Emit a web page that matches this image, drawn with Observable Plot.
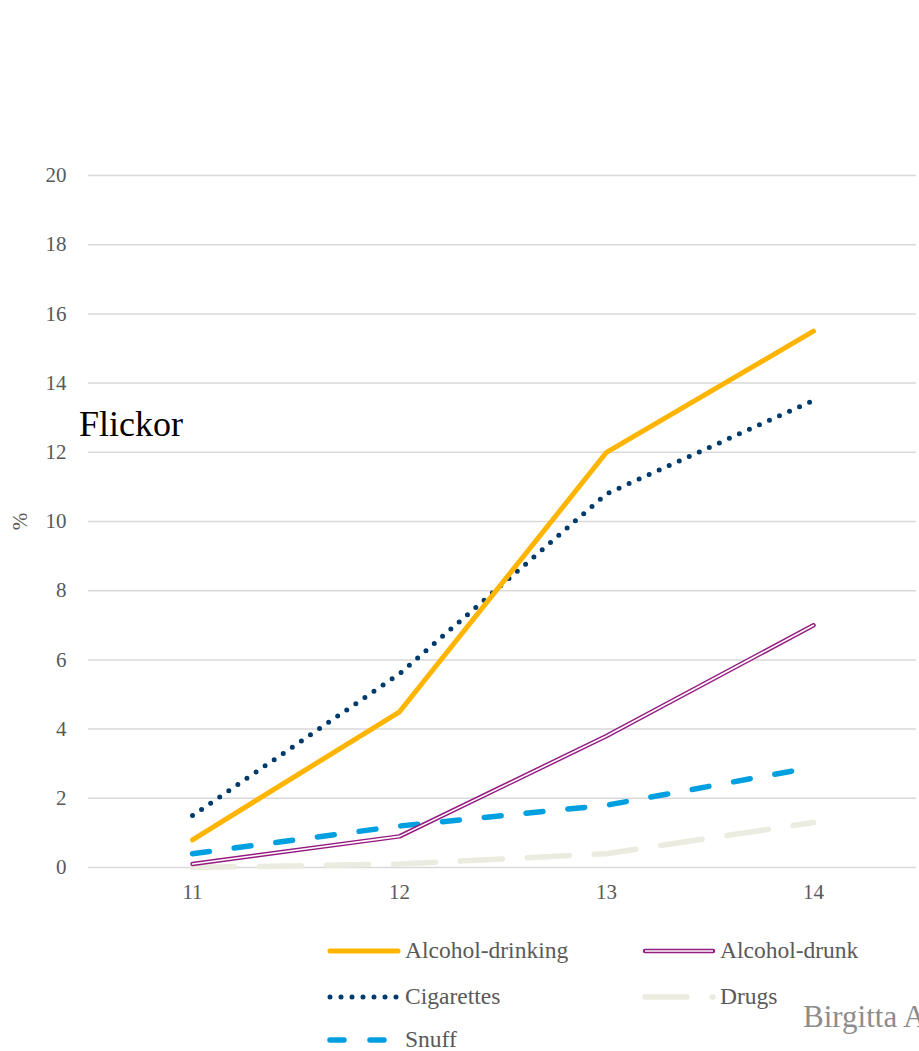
<!DOCTYPE html>
<html>
<head>
<meta charset="utf-8">
<script src="https://cdn.jsdelivr.net/npm/d3@7"></script>
<script src="https://cdn.jsdelivr.net/npm/@observablehq/plot@0.6"></script>
<style>
  html, body { margin: 0; padding: 0; background: #fff; }
  #wrap { position: relative; width: 919px; height: 1051px; overflow: hidden; font-family: "Liberation Serif", "Times New Roman", serif; }
  #chart { position: absolute; left: 0; top: 0; }
  #chart svg, #chart svg text { font-family: "Liberation Serif", "Times New Roman", serif; }
  .ann { position: absolute; white-space: nowrap; line-height: 1; }
  .leg { position: absolute; display: flex; align-items: center; font-size: 23.5px; line-height: 1; color: #595959; white-space: nowrap; }
  .leg svg { margin-right: 4px; }
</style>
</head>
<body>
<div id="wrap">
  <div id="chart"></div>
  <div class="ann" style="left:79px; top:406px; font-size:36px; color:#000;">Flickor</div>
  <div class="ann" style="left:803px; top:1001px; font-size:31px; color:#8c8c8c;">Birgitta A</div>
  <div id="legend"></div>
</div>
<script>
const ages = [11, 12, 13, 14];
const seriesNames = ["Alcohol-drinking", "Alcohol-drunk", "Cigarettes", "Drugs", "Snuff"];
const alcoholDrinking = [0.8, 4.5, 12.0, 15.5];
const alcoholDrunk = [0.1, 0.9, 3.8, 7.0];
const cigarettes = [1.5, 5.6, 10.8, 13.5];
const drugs = [0.0, 0.1, 0.4, 1.3];
const snuff = [0.4, 1.2, 1.8, 2.9];
const yTicks = [0, 2, 4, 6, 8, 10, 12, 14, 16, 18, 20];

const valuesBySeries = {
  "Alcohol-drinking": alcoholDrinking,
  "Alcohol-drunk": alcoholDrunk,
  "Cigarettes": cigarettes,
  "Drugs": drugs,
  "Snuff": snuff
};
const rows = [];
for (const s of seriesNames) {
  valuesBySeries[s].forEach((v, i) => rows.push({series: s, age: ages[i], value: v}));
}
const of = s => rows.filter(d => d.series === s);

const styles = {
  "Alcohol-drinking": {stroke: "#FFB400", strokeWidth: 5, strokeLinecap: "round"},
  "Alcohol-drunk": {stroke: "#951B81", strokeWidth: 4.5, strokeLinecap: "round"},
  "Cigarettes": {stroke: "#003A6B", strokeWidth: 5, strokeLinecap: "round", strokeDasharray: "0 11"},
  "Drugs": {stroke: "#EBEBE0", strokeWidth: 5.5, strokeLinecap: "round", strokeDasharray: "42 25"},
  "Snuff": {stroke: "#009FDF", strokeWidth: 5.5, strokeLinecap: "round", strokeDasharray: "17 25"}
};

const chart = Plot.plot({
  width: 919,
  height: 920,
  marginLeft: 88,
  marginRight: 3,
  marginTop: 175,
  marginBottom: 53,
  style: {fontFamily: "Liberation Serif, Times New Roman, serif", fontSize: "21px", color: "#595959", background: "transparent"},
  x: {type: "point", domain: ages, padding: 0.5, label: null},
  y: {domain: [0, 20], ticks: yTicks, label: "%"},
  marks: [
    Plot.ruleY(yTicks, {stroke: "#d9d9d9", strokeWidth: 1.5}),
    Plot.axisY({ticks: yTicks, tickSize: 0, tickPadding: 22, label: "%", labelAnchor: "center", labelArrow: "none", labelOffset: 76, fill: "#595959"}),
    Plot.axisX({tickSize: 0, tickPadding: 17, label: null, fill: "#595959"}),
    Plot.lineY(of("Drugs"), {x: "age", y: "value", ...styles["Drugs"]}),
    Plot.lineY(of("Snuff"), {x: "age", y: "value", ...styles["Snuff"]}),
    Plot.lineY(of("Alcohol-drunk"), {x: "age", y: "value", ...styles["Alcohol-drunk"]}),
    Plot.lineY(of("Alcohol-drunk"), {x: "age", y: "value", stroke: "#fff", strokeWidth: 1.6, strokeLinecap: "round"}),
    Plot.lineY(of("Cigarettes"), {x: "age", y: "value", ...styles["Cigarettes"]}),
    Plot.lineY(of("Alcohol-drinking"), {x: "age", y: "value", ...styles["Alcohol-drinking"]})
  ]
});
document.getElementById("chart").appendChild(chart);

// legend
const legendPos = {
  "Alcohol-drinking": [330, 951],
  "Alcohol-drunk": [645, 951],
  "Cigarettes": [330, 997],
  "Drugs": [645, 997],
  "Snuff": [330, 1040]
};
const legend = document.getElementById("legend");
for (const s of seriesNames) {
  const [lx, ly] = legendPos[s];
  const st = styles[s];
  const item = document.createElement("div");
  item.className = "leg";
  item.style.left = (lx - 3) + "px";
  item.style.top = (ly - 12) + "px";
  item.style.height = "24px";
  let inner = `<line x1="3" y1="7" x2="71" y2="7" stroke="${st.stroke}" stroke-width="${st.strokeWidth}" stroke-linecap="round" ${st.strokeDasharray ? `stroke-dasharray="${s === "Snuff" ? "14 26" : st.strokeDasharray}"` : ""}/>`;
  if (s === "Alcohol-drunk") inner += `<line x1="3" y1="7" x2="71" y2="7" stroke="#fff" stroke-width="1.6"/>`;
  item.innerHTML = `<svg width="74" height="14">${inner}</svg><span>${s}</span>`;
  legend.appendChild(item);
}
</script>
</body>
</html>
